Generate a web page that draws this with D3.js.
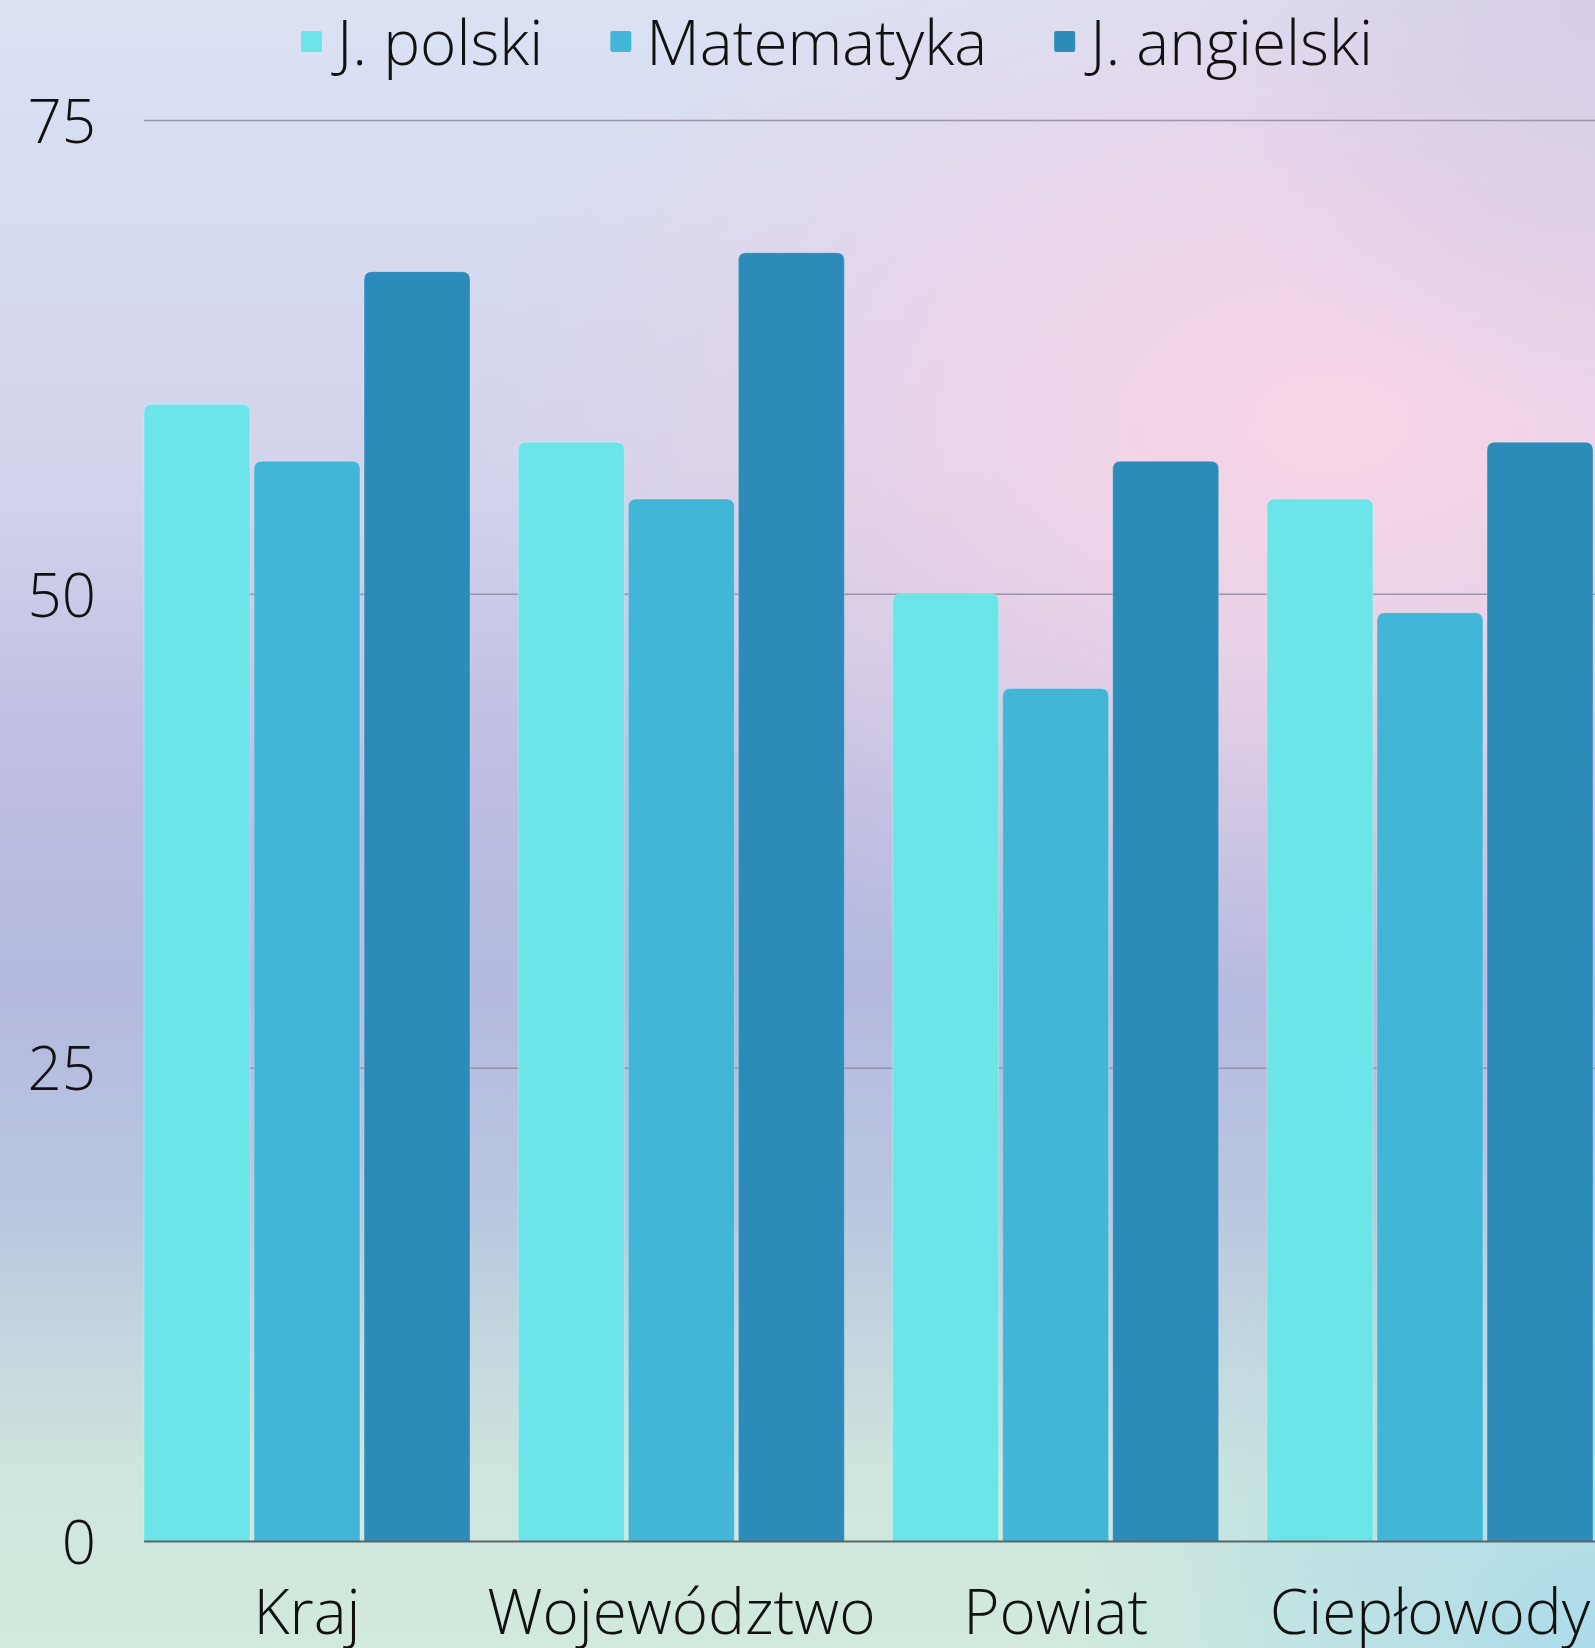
<!DOCTYPE html>
<html>
<head>
<meta charset="utf-8">
<script src="https://cdn.jsdelivr.net/npm/d3@7"></script>
<style>
  html, body { margin: 0; padding: 0; overflow: hidden; }
  svg { display: block; font-family: "Open Sans", sans-serif; font-weight: 300; }
</style>
</head>
<body>
<script>
'use strict';

// chart data
const categories = ["Kraj", "Województwo", "Powiat", "Ciepłowody"];
const seriesNames = ["J. polski", "Matematyka", "J. angielski"];
const polski = [60, 58, 50, 55];
const matematyka = [57, 55, 45, 49];
const angielski = [67, 68, 57, 58];
const yTicks = [0, 25, 50, 75];

(function() {

  const width = 1595;
  const height = 1648;
  const colors = ["#6ce5e9", "#41b6d6", "#2d8bba"];
  let svgContainer = "";

  window.onload = function() {
    svgContainer = d3.select('body')
      .append('svg')
      .attr('width', width)
      .attr('height', height);

    drawBackground();

    // one row per category with the three subject values
    let rows = categories.map((c, i) => ({
      category: c,
      values: [polski[i], matematyka[i], angielski[i]]
    }));

    let scales = drawAxes();
    plotBars(rows, scales);
    drawLegend();
  }

  // soft mesh-like gradient made from a few layered gradients
  function drawBackground() {
    let defs = svgContainer.append('defs');

    let base = defs.append('linearGradient')
      .attr('id', 'bgBase')
      .attr('x1', 0).attr('y1', 0).attr('x2', 0).attr('y2', 1);
    [[0, "#dae2f4"], [0.28, "#d3d4ec"], [0.48, "#bcbde1"], [0.6, "#b3b9df"],
     [0.74, "#bac8e0"], [0.9, "#cfe6dc"], [1, "#d1eadc"]].forEach((s) => {
      base.append('stop').attr('offset', s[0]).attr('stop-color', s[1]);
    });

    let pink = defs.append('radialGradient')
      .attr('id', 'bgPink')
      .attr('gradientUnits', 'userSpaceOnUse')
      .attr('cx', 1330).attr('cy', 430).attr('r', 860)
      .attr('gradientTransform', 'translate(1330,430) scale(1,0.68) translate(-1330,-430)');
    pink.append('stop').attr('offset', 0).attr('stop-color', '#f8d5e6').attr('stop-opacity', 1);
    pink.append('stop').attr('offset', 0.4).attr('stop-color', '#f1d3e6').attr('stop-opacity', 0.8);
    pink.append('stop').attr('offset', 1).attr('stop-color', '#e6d3ea').attr('stop-opacity', 0);

    let blue = defs.append('radialGradient')
      .attr('id', 'bgBlue')
      .attr('gradientUnits', 'userSpaceOnUse')
      .attr('cx', 1595).attr('cy', 1648).attr('r', 520);
    blue.append('stop').attr('offset', 0).attr('stop-color', '#acdbea').attr('stop-opacity', 1);
    blue.append('stop').attr('offset', 1).attr('stop-color', '#acdbea').attr('stop-opacity', 0);

    let topRight = defs.append('radialGradient')
      .attr('id', 'bgTopRight')
      .attr('gradientUnits', 'userSpaceOnUse')
      .attr('cx', 1595).attr('cy', 0).attr('r', 420);
    topRight.append('stop').attr('offset', 0).attr('stop-color', '#d5cde6').attr('stop-opacity', 1);
    topRight.append('stop').attr('offset', 1).attr('stop-color', '#d5cde6').attr('stop-opacity', 0);

    ['bgBase', 'bgPink', 'bgBlue', 'bgTopRight'].forEach((id) => {
      svgContainer.append('rect')
        .attr('width', width)
        .attr('height', height)
        .attr('fill', 'url(#' + id + ')');
    });
  }

  // gridlines, tick labels and category labels
  function drawAxes() {
    let yScale = d3.scaleLinear()
      .domain([0, 75])
      .range([1541.5, 120]);

    let xScale = d3.scaleBand()
      .domain(categories)
      .range([144, 1593])
      .paddingInner(0.129)
      .paddingOuter(0);

    let subScale = d3.scaleBand()
      .domain(seriesNames)
      .range([0, xScale.bandwidth()])
      .paddingInner(0.037);

    // gridlines for 25, 50, 75
    let yAxis = d3.axisLeft(yScale)
      .tickValues(yTicks)
      .tickSize(-(width - 144))
      .tickFormat((d) => d)
      .tickPadding(48);

    let gy = svgContainer.append('g')
      .attr('class', 'y-axis')
      .attr('transform', 'translate(144, 0)')
      .call(yAxis);
    gy.select('.domain').remove();
    gy.selectAll('.tick line')
      .attr('stroke', '#8f8aa0')
      .attr('stroke-opacity', (d) => d === 0 ? 0 : 0.85)
      .attr('stroke-width', 1.5);
    gy.selectAll('.tick text')
      .attr('fill', '#111')
      .attr('font-size', 60)
      .attr('font-family', '"Open Sans", sans-serif')
      .attr('font-weight', 300)
      .attr('dy', '0.37em');

    // category labels under the groups
    let xAxis = d3.axisBottom(xScale).tickSize(0).tickPadding(0);
    let gx = svgContainer.append('g')
      .attr('class', 'x-axis')
      .attr('transform', 'translate(0, 1541.5)')
      .call(xAxis);
    gx.select('.domain').remove();
    gx.selectAll('.tick text')
      .attr('fill', '#111')
      .attr('font-size', 62)
      .attr('font-family', '"Open Sans", sans-serif')
      .attr('font-weight', 300)
      .attr('dy', 0)
      .attr('y', 92);

    return { x: xScale, sub: subScale, y: yScale };
  }

  // bar with rounded top corners
  function barPath(x, y, w, h, r) {
    r = Math.min(r, h, w / 2);
    return 'M' + x + ',' + (y + h) +
      'V' + (y + r) +
      'Q' + x + ',' + y + ' ' + (x + r) + ',' + y +
      'H' + (x + w - r) +
      'Q' + (x + w) + ',' + y + ' ' + (x + w) + ',' + (y + r) +
      'V' + (y + h) + 'Z';
  }

  function plotBars(rows, s) {
    let groups = svgContainer.selectAll('.group')
      .data(rows)
      .enter()
      .append('g')
      .attr('class', 'group')
      .attr('transform', (d) => 'translate(' + s.x(d.category) + ',0)');

    groups.selectAll('path')
      .data((d) => d.values.map((v, i) => ({ name: seriesNames[i], value: v, i: i })))
      .enter()
      .append('path')
      .attr('d', (d) => barPath(s.sub(d.name), s.y(d.value), s.sub.bandwidth(),
        s.y(0) - s.y(d.value), 8))
      .attr('fill', (d) => colors[d.i])
      .attr('stroke', 'rgba(255,255,255,0.25)')
      .attr('stroke-width', 1);

    // baseline at zero
    svgContainer.append('line')
      .attr('x1', 144)
      .attr('x2', width)
      .attr('y1', s.y(0))
      .attr('y2', s.y(0))
      .attr('stroke', '#5f6468')
      .attr('stroke-width', 2);
  }

  function drawLegend() {
    let legend = svgContainer.append('g').attr('class', 'legend');
    let x = 0;
    seriesNames.forEach((name, i) => {
      let item = legend.append('g').attr('transform', 'translate(' + x + ',0)');
      item.append('rect')
        .attr('x', 0)
        .attr('y', 31)
        .attr('width', 21)
        .attr('height', 21)
        .attr('rx', 2)
        .attr('fill', colors[i]);
      let t = item.append('text')
        .attr('x', 36)
        .attr('y', 65)
        .attr('font-size', 62)
        .attr('fill', '#111')
        .text(name);
      x += 36 + t.node().getComputedTextLength() + 67;
    });
    // center legend on the span seen in the picture
    let total = x - 67;
    legend.attr('transform', 'translate(' + (837 - total / 2) + ',0)');
  }

})();
</script>
</body>
</html>
